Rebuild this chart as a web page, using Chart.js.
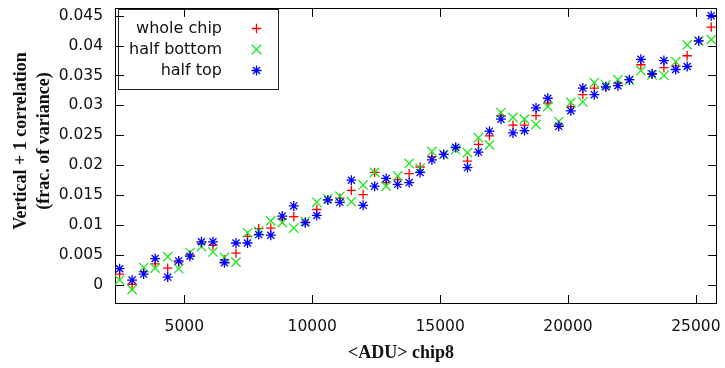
<!DOCTYPE html>
<html>
<head>
<meta charset="utf-8">
<script src="https://cdn.jsdelivr.net/npm/chart.js@4/dist/chart.umd.min.js"></script>
<style>
  html, body { margin: 0; padding: 0; background: #fff; }
  #wrap { width: 725px; height: 368px; }
</style>
</head>
<body>
<div id="wrap"><canvas id="myChart" width="725" height="368"></canvas></div>
<script>
// mean signal per point (ADU)
const adu = [2470, 2960, 3410, 3860, 4350, 4780, 5220, 5670, 6120, 6570,
  7020, 7470, 7910, 8380, 8830, 9280, 9730, 10180, 10610, 11080,
  11530, 11990, 12440, 12890, 13340, 13790, 14220, 14680, 15140, 15610,
  16070, 16500, 16930, 17380, 17850, 18300, 18750, 19210, 19640, 20110,
  20580, 21030, 21480, 21950, 22400, 22850, 23290, 23750, 24210, 24660,
  25110, 25600];

const wholeChip = [0.0018, 0.0001, 0.0022, 0.0035, 0.0028, 0.0038, 0.0050, 0.0069, 0.0066, 0.0042,
  0.0053, 0.0081, 0.0094, 0.0095, 0.0110, 0.0114, 0.0105, 0.0126, 0.0142, 0.0145,
  0.0158, 0.0151, 0.0188, 0.0171, 0.0176, 0.0186, 0.0197, 0.0214, 0.0218, 0.0229,
  0.0207, 0.0235, 0.0249, 0.0283, 0.0267, 0.0267, 0.0283, 0.0304, 0.0268, 0.0298,
  0.0318, 0.0329, 0.0331, 0.0337, 0.0343, 0.0368, 0.0352, 0.0363, 0.0366, 0.0383,
  0.0408, 0.0431];

const halfBottom = [0.0008, -0.0008, 0.0029, 0.0028, 0.0047, 0.0027, 0.0054, 0.0064, 0.0055, 0.0046,
  0.0038, 0.0087, 0.0090, 0.0107, 0.0104, 0.0095, 0.0106, 0.0138, 0.0144, 0.0148,
  0.0139, 0.0167, 0.0188, 0.0165, 0.0182, 0.0203, 0.0195, 0.0223, 0.0218, 0.0226,
  0.0221, 0.0246, 0.0234, 0.0288, 0.0280, 0.0277, 0.0268, 0.0298, 0.0273, 0.0305,
  0.0306, 0.0338, 0.0334, 0.0343, 0.0342, 0.0358, 0.0351, 0.0350, 0.0373, 0.0401,
  0.0408, 0.0410];

const halfTop = [0.0027, 0.0008, 0.0018, 0.0044, 0.0013, 0.0040, 0.0048, 0.0072, 0.0072, 0.0037,
  0.0070, 0.0070, 0.0084, 0.0083, 0.0115, 0.0132, 0.0104, 0.0116, 0.0142, 0.0138,
  0.0175, 0.0133, 0.0165, 0.0178, 0.0168, 0.0171, 0.0188, 0.0209, 0.0218, 0.0230,
  0.0196, 0.0222, 0.0257, 0.0277, 0.0254, 0.0258, 0.0296, 0.0312, 0.0265, 0.0291,
  0.0329, 0.0318, 0.0331, 0.0333, 0.0343, 0.0377, 0.0353, 0.0375, 0.0360, 0.0365,
  0.0408, 0.0450];

const xTicks = [5000, 10000, 15000, 20000, 25000];
const yTicks = [0, 0.005, 0.01, 0.015, 0.02, 0.025, 0.03, 0.035, 0.04, 0.045];
const seriesNames = ["whole chip", "half bottom", "half top"];
const xTitle = "<ADU> chip8";
const yTitle = ["Vertical + 1 correlation", "(frac. of variance)"];

const tickFont = { family: "DejaVu Sans", size: 15.5 };
const titleFont = "bold 18px 'Liberation Serif'";

function makeSet(label, values, color, style, radius, order) {
  return {
    label: label,
    data: adu.map((v, i) => ({ x: v, y: values[i] })),
    showLine: false,
    pointStyle: style,
    pointRadius: radius,
    pointHoverRadius: radius,
    pointBorderColor: color,
    pointBackgroundColor: color,
    pointBorderWidth: 1.3,
    order: order,
  };
}

const datasets = [
  makeSet(seriesNames[0], wholeChip, "#ff0000", "cross", 4.7, 3),
  makeSet(seriesNames[1], halfBottom, "#1ee61e", "crossRot", 6.6, 2),
  makeSet(seriesNames[2], halfTop, "#0000ff", "star", 5, 1),
];

// border box with inward, mirrored ticks
const framePlugin = {
  id: "frame",
  beforeDatasetsDraw(chart) {
    const { ctx, chartArea: a, scales } = chart;
    ctx.save();
    ctx.strokeStyle = "#000";
    ctx.lineWidth = 1;
    ctx.beginPath();
    xTicks.forEach((v) => {
      const px = Math.round(scales.x.getPixelForValue(v)) + 0.5;
      ctx.moveTo(px, a.bottom); ctx.lineTo(px, a.bottom - 9);
      ctx.moveTo(px, a.top); ctx.lineTo(px, a.top + 9);
    });
    yTicks.forEach((v) => {
      const py = Math.round(scales.y.getPixelForValue(v)) + 0.5;
      ctx.moveTo(a.left, py); ctx.lineTo(a.left + 9, py);
      ctx.moveTo(a.right, py); ctx.lineTo(a.right - 9, py);
    });
    ctx.stroke();
    ctx.strokeRect(Math.round(a.left) + 0.5, Math.round(a.top) + 0.5,
      Math.round(a.right - a.left) - 1, Math.round(a.bottom - a.top) - 1);
    ctx.restore();
  },
};

function legendSymbol(ctx, ds, x, y) {
  ctx.strokeStyle = ds.pointBorderColor;
  ctx.fillStyle = ds.pointBorderColor;
  ctx.lineWidth = ds.pointBorderWidth;
  if (Chart.helpers && Chart.helpers.drawPoint) {
    Chart.helpers.drawPoint(ctx, { pointStyle: ds.pointStyle, radius: ds.pointRadius,
      borderWidth: ds.pointBorderWidth, rotation: 0 }, x, y);
    return;
  }
  const r = ds.pointRadius;
  ctx.beginPath();
  if (ds.pointStyle !== "crossRot") {
    ctx.moveTo(x - r, y); ctx.lineTo(x + r, y);
    ctx.moveTo(x, y - r); ctx.lineTo(x, y + r);
  }
  if (ds.pointStyle !== "cross") {
    const d = r * Math.SQRT1_2;
    ctx.moveTo(x - d, y - d); ctx.lineTo(x + d, y + d);
    ctx.moveTo(x - d, y + d); ctx.lineTo(x + d, y - d);
  }
  ctx.stroke();
}

// gnuplot style key + axis titles
const keyPlugin = {
  id: "key",
  afterDraw(chart) {
    const ctx = chart.ctx;
    ctx.save();
    ctx.strokeStyle = "#222";
    ctx.lineWidth = 1;
    ctx.strokeRect(118.5, 9.5, 160, 80);
    ctx.font = "16px 'DejaVu Sans'";
    ctx.textAlign = "right";
    ctx.textBaseline = "middle";
    const rows = [28.5, 49.5, 70.5];
    chart.data.datasets.forEach((ds, i) => {
      ctx.fillStyle = "#111";
      ctx.fillText(ds.label, 222, rows[i]);
      legendSymbol(ctx, ds, 256.5, rows[i]);
    });

    ctx.fillStyle = "#111";
    ctx.font = titleFont;
    ctx.textAlign = "center";
    ctx.textBaseline = "alphabetic";
    ctx.fillText(xTitle, 401, 357.5);

    ctx.translate(0, 141);
    ctx.rotate(-Math.PI / 2);
    ctx.fillText(yTitle[0], 0, 26);
    ctx.fillText(yTitle[1], 0, 49);
    ctx.restore();
  },
};

const config = {
  type: "scatter",
  data: { datasets: datasets },
  options: {
    responsive: false,
    animation: false,
    devicePixelRatio: 1,
    layout: { padding: { top: 6, right: 7, left: 0, bottom: 0 } },
    plugins: {
      legend: { display: false },
      tooltip: { enabled: false },
    },
    scales: {
      x: {
        type: "linear",
        min: 2290,
        max: 25830,
        grid: { display: false, drawTicks: false },
        border: { display: false },
        afterFit: (scale) => {
          scale.height = 64;
          scale.paddingLeft = 0;
          scale.paddingRight = 0;
        },
        afterBuildTicks: (scale) => { scale.ticks = xTicks.map((v) => ({ value: v })); },
        ticks: {
          font: tickFont,
          color: "#111",
          padding: 14,
          maxRotation: 0,
          autoSkip: false,
          callback: (v) => String(v),
        },
      },
      y: {
        type: "linear",
        min: -0.0032,
        max: 0.0463,
        grid: { display: false, drawTicks: false },
        border: { display: false },
        afterFit: (scale) => {
          scale.width = 115;
          scale.paddingTop = 0;
          scale.paddingBottom = 0;
        },
        afterBuildTicks: (scale) => { scale.ticks = yTicks.map((v) => ({ value: v })); },
        ticks: {
          font: tickFont,
          color: "#111",
          padding: 12,
          autoSkip: false,
          callback: (v) => String(parseFloat(v.toFixed(3))),
        },
      },
    },
  },
  plugins: [framePlugin, keyPlugin],
};

var myChart = new Chart(document.getElementById("myChart"), config);
</script>
</body>
</html>
